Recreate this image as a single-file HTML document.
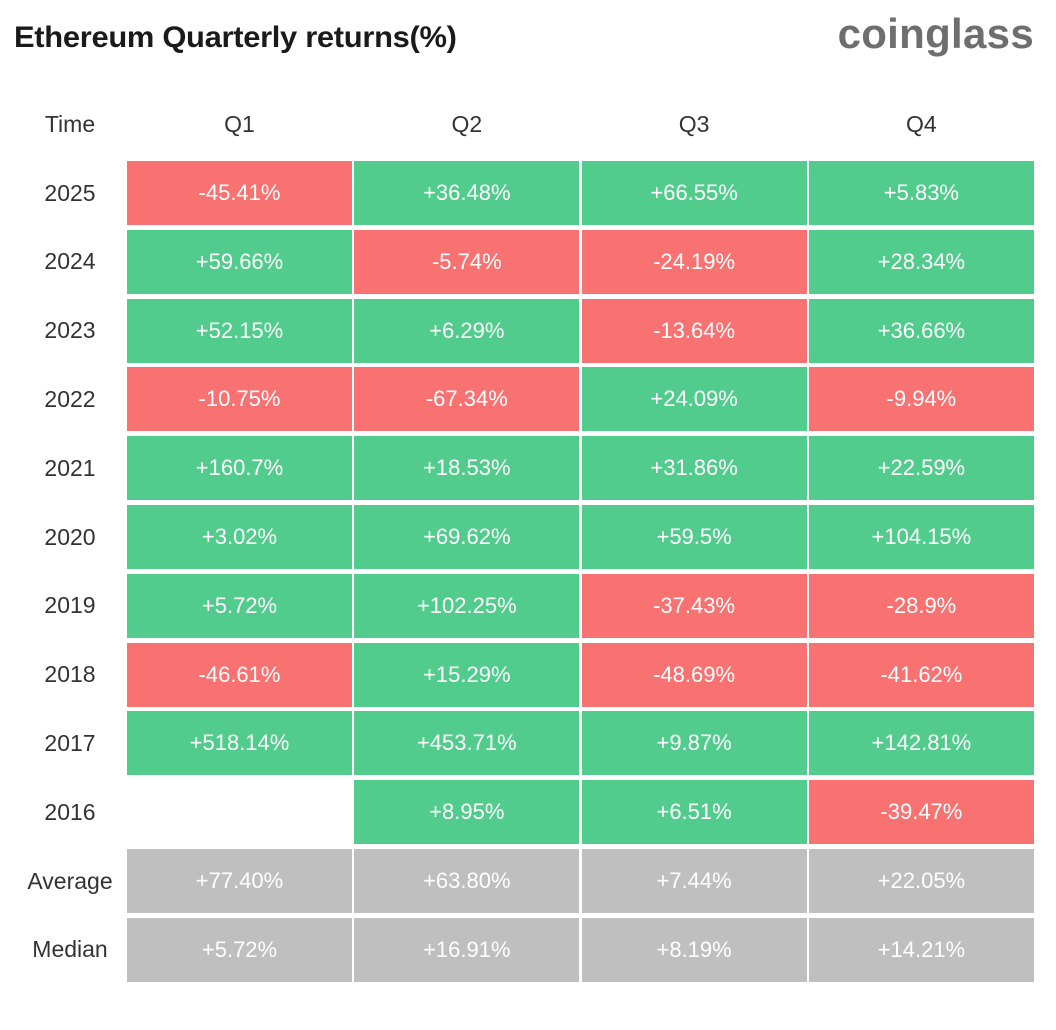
<!DOCTYPE html>
<html><head><meta charset="utf-8"><style>
body{margin:0;width:1056px;height:1030px;background:#fff;font-family:"Liberation Sans","DejaVu Sans",sans-serif;position:relative;overflow:hidden}
#title{position:absolute;left:14px;top:21px;font-size:30px;font-weight:bold;color:#1a1a1a;letter-spacing:-0.3px;transform:scaleX(1.03);transform-origin:left center}
#logo{position:absolute;right:22px;top:10px;font-size:42px;font-weight:bold;color:#6e6e6e;letter-spacing:0.3px}
.h,.y,.c{position:absolute;display:flex;align-items:center;justify-content:center}
.h,.y{color:#333;font-size:23px}
.c{color:#fff;font-size:22px}
</style></head><body>
<div id="title">Ethereum Quarterly returns(%)</div>
<div id="logo">coinglass</div>
<div id="tbl"></div>
<script>
const quarters=["Q1","Q2","Q3","Q4"];
const rowLabels=["2025","2024","2023","2022","2021","2020","2019","2018","2017","2016","Average","Median"];
const q1=["-45.41%","+59.66%","+52.15%","-10.75%","+160.7%","+3.02%","+5.72%","-46.61%","+518.14%","","+77.40%","+5.72%"];
const q2=["+36.48%","-5.74%","+6.29%","-67.34%","+18.53%","+69.62%","+102.25%","+15.29%","+453.71%","+8.95%","+63.80%","+16.91%"];
const q3=["+66.55%","-24.19%","-13.64%","+24.09%","+31.86%","+59.5%","-37.43%","-48.69%","+9.87%","+6.51%","+7.44%","+8.19%"];
const q4=["+5.83%","+28.34%","+36.66%","-9.94%","+22.59%","+104.15%","-28.9%","-41.62%","+142.81%","-39.47%","+22.05%","+14.21%"];
const cols=[q1,q2,q3,q4];
const tbl=document.getElementById('tbl');
const X0=127,CW=225,CP=227.3,Y0=161,RH=64,RP=68.8;
function colX(i){return X0+i*CP}
function rowY(j){return Y0+j*RP}
function mk(cls,x,y,w,h,t){const d=document.createElement('div');d.className=cls;d.style.left=x+'px';d.style.top=y+'px';d.style.width=w+'px';d.style.height=h+'px';d.textContent=t;tbl.appendChild(d);return d}
let e=mk('h',20,rowY(-1),100,RH,'Time');


quarters.forEach((q,i)=>{const d=mk('h',colX(i),rowY(-1),CW,RH,q);

});
rowLabels.forEach((r,j)=>{const d=mk('y',12,rowY(j),116,RH,r);


cols.forEach((col,i)=>{const v=col[j];if(v==='')return;
const c=mk('c',colX(i),rowY(j),CW,RH,v);
c.style.background=j>=10?'#bfbfbf':(v[0]==='-'?'#f87272':'#52cc8c');

});});
</script>
</body></html>
